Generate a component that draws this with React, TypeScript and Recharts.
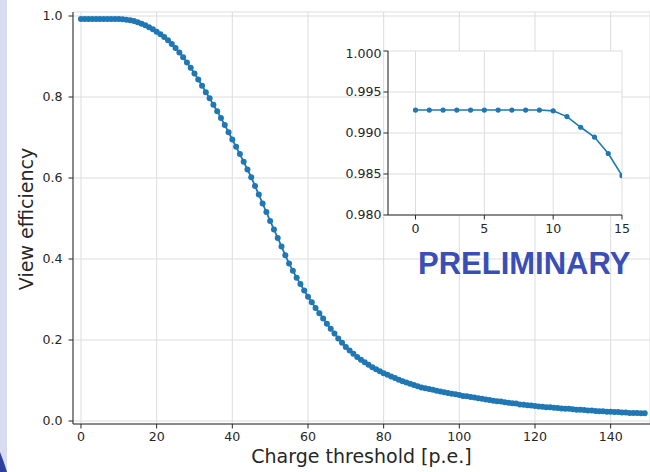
import React from "react";
import { CartesianGrid, Line, LineChart, XAxis, YAxis } from "recharts";

// view efficiency per charge threshold, threshold = index (0..149 p.e.)
const efficiency = [
  0.9928, 0.9928, 0.9928, 0.9928, 0.9928, 0.9928, 0.9928, 0.9928, 0.9928, 0.9928,
  0.9927, 0.992, 0.9907, 0.9895, 0.9875, 0.9848, 0.981, 0.977, 0.972, 0.967,
  0.961, 0.955, 0.948, 0.94, 0.931, 0.921, 0.91, 0.898, 0.885, 0.872,
  0.858, 0.843, 0.828, 0.812, 0.797, 0.781, 0.765, 0.748, 0.731, 0.713,
  0.695, 0.677, 0.659, 0.64, 0.621, 0.602, 0.58, 0.559, 0.537, 0.516,
  0.494, 0.473, 0.452, 0.431, 0.409, 0.389, 0.371, 0.354, 0.338, 0.322,
  0.307, 0.293, 0.279, 0.266, 0.253, 0.24, 0.228, 0.216, 0.204, 0.193,
  0.183, 0.174, 0.166, 0.158, 0.151, 0.145, 0.139, 0.133, 0.128, 0.123,
  0.118, 0.114, 0.11, 0.106, 0.102, 0.098, 0.095, 0.092, 0.089, 0.086,
  0.083, 0.081, 0.079, 0.077, 0.075, 0.073, 0.071, 0.069, 0.067, 0.066,
  0.064, 0.062, 0.061, 0.059, 0.058, 0.056, 0.055, 0.053, 0.052, 0.05,
  0.049, 0.048, 0.046, 0.045, 0.044, 0.043, 0.041, 0.04, 0.039, 0.038,
  0.037, 0.036, 0.035, 0.034, 0.034, 0.033, 0.032, 0.031, 0.03, 0.03,
  0.029, 0.028, 0.028, 0.027, 0.026, 0.026, 0.025, 0.024, 0.024, 0.023,
  0.023, 0.022, 0.022, 0.021, 0.021, 0.02, 0.02, 0.02, 0.019, 0.019,
];

const mainXTicks = [0, 20, 40, 60, 80, 100, 120, 140];
const mainYTicks = [0, 0.2, 0.4, 0.6, 0.8, 1.0];
const insetXTicks = [0, 5, 10, 15];
const insetYTicks = [0.98, 0.985, 0.99, 0.995, 1.0];
const INSET_MAX = 15;

const FONT = "'DejaVu Sans', sans-serif";
const BLUE = "#1f77b4";
const INK = "#262626";
const GRID = "#dddddd";

const mainData = efficiency.map((y, x) => ({ x, y }));
const insetData = mainData.filter((d) => d.x <= INSET_MAX);

const tickStyle = { fill: INK, fontSize: 12.6, fontFamily: FONT };

function MainChart() {
  return (
    <LineChart
      width={650}
      height={472}
      data={mainData}
      margin={{ top: 12, right: 0, bottom: 0, left: 0 }}
    >
      <CartesianGrid stroke={GRID} />
      <XAxis
        type="number"
        dataKey="x"
        domain={[-2.11, 150.4]}
        ticks={mainXTicks}
        allowDataOverflow
        height={48}
        tickSize={4.5}
        tickMargin={4}
        tick={tickStyle}
        axisLine={{ stroke: INK }}
        tickLine={{ stroke: INK }}
        label={{
          value: "Charge threshold [p.e.]",
          position: "insideBottom",
          offset: 9,
          fill: INK,
          fontSize: 19,
          fontFamily: FONT,
        }}
      />
      <XAxis
        xAxisId="top"
        orientation="top"
        type="number"
        domain={[0, 1]}
        height={0}
        tick={false}
        tickLine={false}
        axisLine={{ stroke: INK }}
      />
      <YAxis
        type="number"
        domain={[-0.0074, 1.0099]}
        ticks={mainYTicks}
        allowDataOverflow
        width={73}
        tickSize={4.5}
        tickMargin={6}
        tick={tickStyle}
        tickFormatter={(v: number) => v.toFixed(1)}
        axisLine={{ stroke: INK }}
        tickLine={{ stroke: INK }}
      />
      <Line
        type="linear"
        dataKey="y"
        stroke={BLUE}
        strokeWidth={1.8}
        dot={{ r: 3, fill: BLUE, stroke: BLUE, strokeWidth: 0 }}
        activeDot={false}
        isAnimationActive={false}
      />
    </LineChart>
  );
}

function InsetChart() {
  return (
    <LineChart
      width={310}
      height={194}
      data={insetData}
      margin={{ top: 5, right: 18, bottom: 0, left: 0 }}
    >
      <CartesianGrid stroke={GRID} fill="#fff" />
      <XAxis
        type="number"
        dataKey="x"
        domain={[-2, 15]}
        ticks={insetXTicks}
        allowDataOverflow
        height={25}
        tickSize={4.5}
        tickMargin={5}
        tick={tickStyle}
        axisLine={{ stroke: INK }}
        tickLine={{ stroke: INK }}
      />
      <XAxis
        xAxisId="top"
        orientation="top"
        type="number"
        domain={[0, 1]}
        height={0}
        tick={false}
        tickLine={false}
        axisLine={{ stroke: INK }}
      />
      <YAxis
        type="number"
        domain={[0.98, 1.0]}
        ticks={insetYTicks}
        allowDataOverflow
        width={58}
        tickSize={4.5}
        tickMargin={2}
        tick={tickStyle}
        tickFormatter={(v: number) => v.toFixed(3)}
        axisLine={{ stroke: INK }}
        tickLine={{ stroke: INK }}
      />
      <YAxis
        yAxisId="right"
        orientation="right"
        type="number"
        domain={[0, 1]}
        width={0}
        tick={false}
        tickLine={false}
        axisLine={{ stroke: INK }}
      />
      <Line
        type="linear"
        dataKey="y"
        stroke={BLUE}
        strokeWidth={1.6}
        dot={{ r: 2.6, fill: BLUE, stroke: BLUE, strokeWidth: 0 }}
        activeDot={false}
        isAnimationActive={false}
      />
    </LineChart>
  );
}

export default function App() {
  return (
    <div
      style={{
        position: "fixed",
        left: 0,
        top: 0,
        width: 650,
        height: 472,
        background: "#fff",
        overflow: "hidden",
        fontFamily: FONT,
      }}
    >
      <div style={{ position: "absolute", left: 0, top: 0 }}>
        <MainChart />
      </div>
      <div style={{ position: "absolute", left: 330, top: 46 }}>
        <InsetChart />
      </div>
      <svg
        width={650}
        height={472}
        style={{ position: "absolute", left: 0, top: 0, pointerEvents: "none" }}
      >
        <rect x={0} y={0} width={7} height={472} fill="#d8dcf1" />
        <path d="M0,452 Q4,462 7,472 L0,472 Z" fill="#2f3f9f" />
        <text
          x={26}
          y={219}
          transform="rotate(-90 26 219)"
          textAnchor="middle"
          dominantBaseline="central"
          fontSize={19}
          fontFamily={FONT}
          fill={INK}
        >
          View efficiency
        </text>
        <text
          x={418}
          y={274}
          fontSize={31}
          fontWeight="bold"
          fontFamily="'Liberation Sans', Arial, sans-serif"
          fill="#3a4fb6"
        >
          PRELIMINARY
        </text>
      </svg>
    </div>
  );
}
